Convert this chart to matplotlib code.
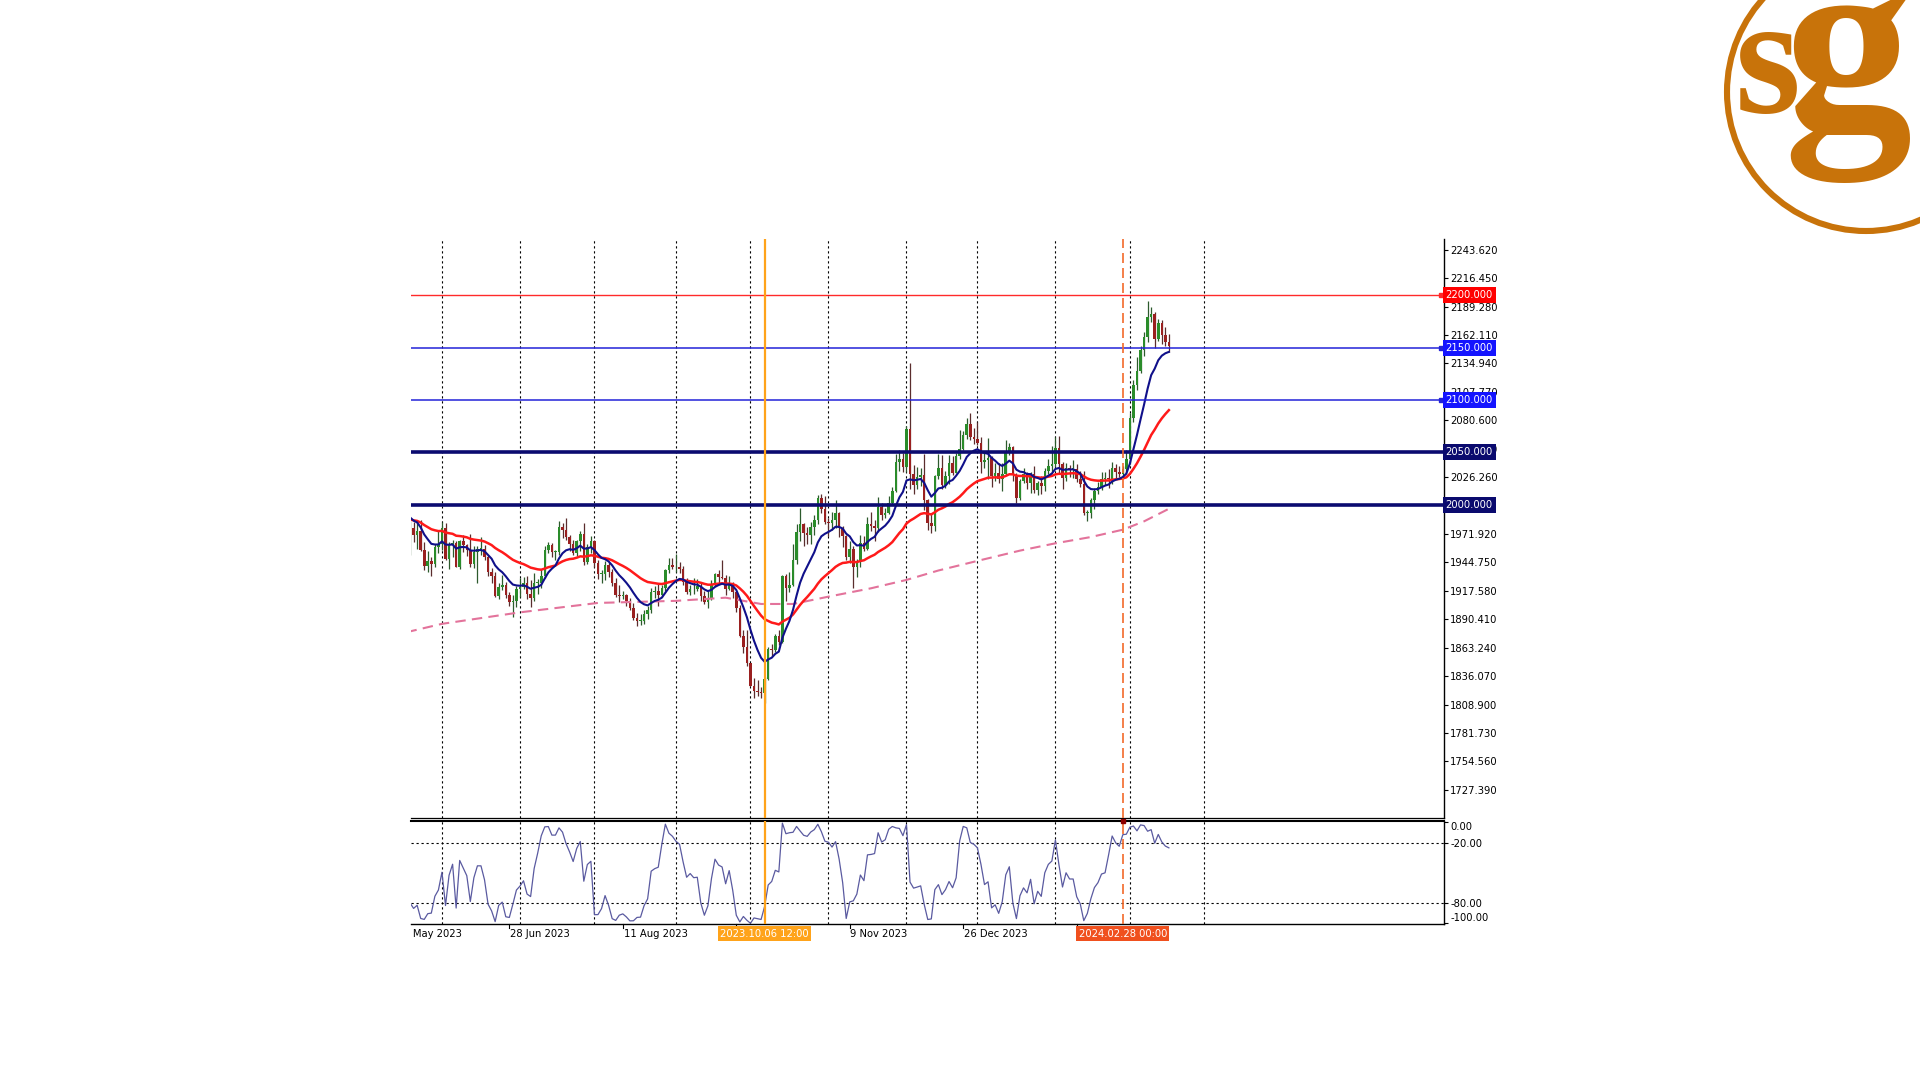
import numpy as np
import pandas as pd
import matplotlib
matplotlib.use('Agg')
import matplotlib.pyplot as plt
from matplotlib.patches import Circle
from matplotlib.transforms import Bbox, TransformedBbox, blended_transform_factory

plt.rcParams['font.family'] = 'DejaVu Sans'

# daily XAUUSD bars, 18 May 2023 - 18 Mar 2024
opens = [
    1982, 1958, 1978, 1971, 1975, 1957, 1941, 1946, 1943, 1959,
    1962, 1978, 1948, 1961, 1963, 1940, 1965, 1961, 1957, 1943, 1955, 1958, 1958, 1950, 1936, 1932, 1913, 1921, 1923, 1914, 1907, 1908,
    1919, 1921, 1925, 1915, 1911, 1925, 1925, 1932, 1957, 1961, 1955, 1955, 1979, 1976, 1969, 1962, 1954, 1965, 1972, 1945, 1959,
    1965, 1944, 1934, 1934, 1942, 1936, 1925, 1914, 1913, 1914, 1908, 1901, 1892, 1889, 1889, 1895, 1899, 1916, 1917, 1914, 1920, 1937, 1942,
    1940, 1940, 1938, 1926, 1916, 1919, 1919, 1922, 1913, 1907, 1910, 1924, 1934, 1931, 1930, 1919, 1925, 1916, 1901, 1874, 1864,
    1849, 1827, 1822, 1821, 1820, 1833, 1862, 1861, 1874, 1869, 1932, 1920, 1923, 1947, 1974, 1981, 1973, 1971, 1979, 1985, 2006, 1996,
    1983, 1982, 1985, 1992, 1978, 1970, 1950, 1958, 1940, 1946, 1963, 1958, 1981, 1980, 1978, 1998, 1990, 1992, 2002, 2013, 2041, 2044,
    2036, 2072, 2029, 2019, 2026, 2028, 2004, 1982, 1980, 2027, 2035, 2019, 2027, 2040, 2030, 2046, 2053, 2067, 2077, 2065,
    2063, 2059, 2041, 2043, 2045, 2027, 2030, 2024, 2029, 2049, 2055, 2028, 2006, 2023, 2029, 2021, 2029, 2014, 2021, 2018, 2032, 2037,
    2039, 2054, 2039, 2025, 2035, 2034, 2034, 2024, 2020, 1992, 1992, 2004, 2013, 2017, 2024, 2025, 2024, 2035, 2031, 2029, 2034,
    2044, 2083, 2114, 2128, 2148, 2160, 2179, 2182, 2158, 2174, 2162, 2155,
]
highs = [
    1985, 1984, 1983, 1985, 1985, 1964, 1956, 1950, 1962, 1975,
    1983, 1982, 1964, 1966, 1965, 1966, 1971, 1962, 1972, 1960, 1960, 1969, 1961, 1952, 1939, 1936, 1925, 1933, 1926, 1916, 1914, 1922,
    1930, 1931, 1932, 1928, 1935, 1929, 1938, 1960, 1964, 1963, 1957, 1984, 1982, 1987, 1971, 1966, 1966, 1975, 1982, 1962, 1970,
    1966, 1947, 1937, 1946, 1945, 1938, 1930, 1923, 1917, 1915, 1911, 1906, 1896, 1895, 1899, 1903, 1920, 1922, 1925, 1923, 1938, 1949, 1949,
    1953, 1945, 1941, 1930, 1923, 1930, 1929, 1926, 1917, 1917, 1928, 1935, 1937, 1947, 1933, 1932, 1926, 1917, 1904, 1880, 1880,
    1849, 1834, 1832, 1826, 1835, 1864, 1867, 1876, 1880, 1933, 1934, 1936, 1962, 1981, 1997, 1982, 1979, 1983, 1990, 2009, 2010, 2008,
    1987, 1993, 2004, 1993, 1980, 1971, 1965, 1960, 1948, 1971, 1970, 1988, 1993, 1985, 2007, 2002, 1997, 2008, 2017, 2048, 2052, 2049,
    2075, 2135, 2038, 2036, 2035, 2048, 2005, 1992, 2028, 2048, 2047, 2032, 2047, 2046, 2049, 2071, 2070, 2083, 2088, 2073,
    2079, 2065, 2051, 2064, 2046, 2040, 2040, 2040, 2062, 2059, 2056, 2030, 2024, 2035, 2031, 2031, 2037, 2023, 2027, 2035, 2044, 2056,
    2065, 2066, 2041, 2040, 2038, 2043, 2039, 2032, 2032, 1995, 2006, 2016, 2022, 2031, 2031, 2034, 2041, 2039, 2037, 2037, 2052,
    2088, 2119, 2141, 2152, 2165, 2195, 2189, 2184, 2177, 2176, 2170, 2163,
]
lows = [
    1952, 1952, 1964, 1958, 1956, 1937, 1936, 1932, 1940, 1954,
    1957, 1947, 1938, 1950, 1940, 1938, 1955, 1951, 1940, 1939, 1925, 1952, 1947, 1932, 1925, 1912, 1910, 1918, 1911, 1903, 1893, 1902,
    1912, 1919, 1910, 1902, 1908, 1915, 1920, 1930, 1954, 1950, 1947, 1952, 1968, 1966, 1956, 1952, 1951, 1956, 1942, 1943, 1954,
    1940, 1929, 1925, 1928, 1931, 1922, 1912, 1907, 1910, 1903, 1899, 1890, 1884, 1885, 1886, 1891, 1896, 1911, 1903, 1912, 1917, 1935, 1938,
    1936, 1935, 1923, 1915, 1914, 1915, 1917, 1908, 1905, 1901, 1909, 1922, 1925, 1929, 1914, 1918, 1911, 1897, 1873, 1858, 1846,
    1827, 1815, 1817, 1815, 1810, 1832, 1855, 1859, 1866, 1868, 1908, 1916, 1922, 1943, 1965, 1960, 1962, 1962, 1971, 1981, 1992, 1981,
    1970, 1976, 1978, 1969, 1959, 1947, 1944, 1920, 1931, 1940, 1956, 1957, 1975, 1965, 1974, 1985, 1987, 1991, 2001, 2012, 2032, 2031,
    2031, 2015, 2010, 2015, 2018, 1995, 1976, 1973, 1975, 2024, 2015, 2016, 2020, 2028, 2030, 2044, 2052, 2063, 2062, 2058,
    2057, 2030, 2035, 2024, 2017, 2023, 2021, 2013, 2028, 2047, 2023, 2002, 2004, 2021, 2015, 2011, 2011, 2009, 2010, 2013, 2029, 2031,
    2036, 2029, 2015, 2023, 2026, 2025, 2022, 2017, 1990, 1984, 1987, 1996, 2010, 2014, 2019, 2016, 2020, 2025, 2026, 2025, 2030,
    2039, 2079, 2110, 2126, 2142, 2155, 2175, 2150, 2156, 2154, 2152, 2146,
]
closes = [
    1958, 1978, 1971, 1975, 1957, 1941, 1946, 1943, 1959, 1962,
    1978, 1948, 1961, 1963, 1940, 1965, 1961, 1957, 1943, 1955, 1958, 1958, 1950, 1936, 1932, 1913, 1921, 1923, 1914, 1907, 1908, 1919,
    1921, 1925, 1915, 1911, 1925, 1925, 1932, 1957, 1961, 1955, 1955, 1979, 1976, 1969, 1962, 1954, 1965, 1972, 1945, 1959, 1965,
    1944, 1934, 1934, 1942, 1936, 1925, 1914, 1913, 1914, 1908, 1901, 1892, 1889, 1889, 1895, 1899, 1916, 1917, 1914, 1920, 1937, 1942, 1940,
    1940, 1938, 1926, 1916, 1919, 1919, 1922, 1913, 1907, 1910, 1924, 1934, 1931, 1930, 1919, 1925, 1916, 1901, 1874, 1864, 1849,
    1827, 1822, 1821, 1820, 1833, 1862, 1861, 1874, 1869, 1932, 1920, 1923, 1947, 1974, 1981, 1973, 1971, 1979, 1985, 2006, 1996, 1983,
    1982, 1985, 1992, 1978, 1970, 1950, 1958, 1940, 1946, 1963, 1958, 1981, 1980, 1978, 1998, 1990, 1992, 2002, 2013, 2041, 2044, 2036,
    2072, 2029, 2019, 2026, 2028, 2004, 1982, 1980, 2027, 2035, 2019, 2027, 2040, 2030, 2046, 2053, 2067, 2077, 2065, 2063,
    2059, 2041, 2043, 2045, 2027, 2030, 2024, 2029, 2049, 2055, 2028, 2006, 2023, 2029, 2021, 2029, 2014, 2021, 2018, 2032, 2037, 2039,
    2054, 2039, 2025, 2035, 2034, 2034, 2024, 2020, 1992, 1992, 2004, 2013, 2017, 2024, 2025, 2024, 2035, 2031, 2029, 2034, 2044,
    2083, 2114, 2128, 2148, 2160, 2179, 2182, 2158, 2174, 2162, 2155, 2152,
]

# 13 bars before the window (1-17 May) for the %R lookback
prior_highs = [1993, 2019, 2042, 2081, 2056, 2026, 2037, 2041, 2033, 2021, 2022, 2023, 1993]
prior_lows = [1977, 1977, 2014, 2030, 2001, 2012, 2014, 2021, 2004, 2004, 2007, 1985, 1977]

# moving average values just before the first bar
fast_ma_start = 1997
slow_ma_start = 1988

# long dashed average, read at a few bars
long_ma_idx = [0, 10, 32, 54, 76, 90, 100, 109, 119, 131, 141, 150, 162, 173, 183, 193, 202, 208, 215]
long_ma_val = [1878, 1886, 1897, 1906, 1908, 1911, 1905, 1905, 1912, 1920, 1928, 1937, 1947, 1956,
               1963, 1969, 1976, 1984, 1996]

levels = [2200, 2150, 2100, 2050, 2000]
level_colors = ['#ff2a2a', '#2323d8', '#2323d8', '#0b0b70', '#0b0b70']
level_box = ['#ff0000', '#1414ff', '#1414ff', '#0a0a6e', '#0a0a6e']
level_width = [1.0, 1.1, 1.1, 2.6, 2.6]

price_ticks = [2243.620, 2216.450, 2189.280, 2162.110, 2134.940, 2107.770, 2080.600, 2053.430,
               2026.260, 1999.090, 1971.920, 1944.750, 1917.580, 1890.410, 1863.240, 1836.070,
               1808.900, 1781.730, 1754.560, 1727.390]
osc_ticks = [0, -20, -80, -100]
osc_labels = ['0.00', '-20.00', '-80.00', '-100.00']

event_dates = ['2023-10-06', '2024-02-28']
event_labels = ['2023.10.06 12:00', '2024.02.28 00:00']

holidays = pd.to_datetime(['2023-12-25', '2024-01-01'])
cal = pd.bdate_range('2023-05-15', '2024-04-30')
cal = cal[~cal.isin(holidays)]
cal_idx = np.arange(len(cal)) - list(cal).index(pd.Timestamp('2023-05-18'))
pos = dict(zip(cal, cal_idx))

o = np.array(opens, float)
h = np.array(highs, float)
l = np.array(lows, float)
c = np.array(closes, float)
n = len(c)
assert len(o) == len(h) == len(l) == n == 216
x = np.arange(n)

fast_ma = pd.Series([fast_ma_start] + closes).ewm(span=10, adjust=False).mean().to_numpy()[1:]
slow_ma = pd.Series([slow_ma_start] + closes).ewm(span=34, adjust=False).mean().to_numpy()[1:]
hh = pd.Series(prior_highs + highs).rolling(14, min_periods=1).max().to_numpy()[13:]
ll = pd.Series(prior_lows + lows).rolling(14, min_periods=1).min().to_numpy()[13:]
wpr = -100 * (hh - c) / (hh - ll)

W, H = 1920, 1080
fig = plt.figure(figsize=(19.2, 10.8), dpi=100)
fig.patch.set_facecolor('white')
L, R = 411, 1444
ax = fig.add_axes([L / W, 1 - 818 / H, (R - L) / W, (818 - 239) / H])
osc = fig.add_axes([L / W, 1 - 924 / H, (R - L) / W, (924 - 821) / H])

bar_px = 3.546
x_left = (L - 406.5) / bar_px
x_right = x_left + (R - L) / bar_px
for a in (ax, osc):
    a.set_xlim(x_left, x_right)
    a.spines['left'].set_visible(False)
    a.yaxis.tick_right()
    a.tick_params(axis='y', direction='out', length=3, width=0.8, pad=1.5, labelsize=7.2, colors='black')
    a.spines['right'].set_linewidth(1.0)

ax.set_ylim(1700.4, 2253.9)
ax.spines['top'].set_visible(False)
ax.spines['bottom'].set_linewidth(0.9)
ax.set_xticks([])
ax.set_yticks(price_ticks)
ax.set_yticklabels([f'{v:.3f}' for v in price_ticks])

osc.set_ylim(-100.7, 1.3)
osc.spines['top'].set_linewidth(1.5)
osc.spines['bottom'].set_linewidth(1.0)
osc.set_yticks(osc_ticks)
osc.set_yticklabels(osc_labels)
for lab, v in zip(osc.get_yticklabels(), osc_ticks):
    if v == 0:
        lab.set_va('top')
    elif v == -100:
        lab.set_va('bottom')

# month grid
month_first = pd.Series(cal_idx, index=cal).groupby([cal.year, cal.month]).first()
for i in month_first.values:
    if x_left < i < x_right:
        for a in (ax, osc):
            a.axvline(i, color='black', lw=0.8, ls=(0, (2, 2.5)), zorder=1)
for lv in (-20, -80):
    osc.axhline(lv, color='black', lw=0.8, ls=(0, (2, 2.5)), zorder=1)

# candles
up = c >= o
body_col = np.where(up, '#2a8c2a', '#9a2020')
wick_col = np.where(up, '#2d5a2d', '#5a2d2d')
ax.vlines(x, l, h, colors=wick_col, lw=0.9, zorder=3)
ax.bar(x, np.maximum(np.abs(c - o), 0.6), bottom=np.minimum(o, c), width=0.72,
       color=body_col, edgecolor='none', zorder=3.5)

ax.plot(long_ma_idx, long_ma_val, color='#e3739b', lw=1.5, ls=(0, (5, 3)), zorder=4)
ax.plot(x, slow_ma, color='#ff1a1a', lw=1.8, zorder=4)
ax.plot(x, fast_ma, color='#10108a', lw=1.5, zorder=4.2)

osc.plot(x, wpr, color='#5a5aa0', lw=0.9, zorder=3)

# horizontal levels with price boxes
ytr = blended_transform_factory(ax.transAxes, ax.transData)
for lv, lc, bc, lw in zip(levels, level_colors, level_box, level_width):
    ax.axhline(lv, color=lc, lw=lw, zorder=5)
    ax.text(1.0015, lv, f'{lv:.3f}', transform=ytr, ha='left', va='center', fontsize=7.2,
            color='white', zorder=10, clip_on=False,
            bbox=dict(boxstyle='square,pad=0.3', fc=bc, ec='none'))
    if lw < 2:
        ax.plot([0.9975], [lv], marker='s', ms=3.2, color=lc, transform=ytr, clip_on=False, zorder=6)

# event lines
ev_idx = [pos[pd.Timestamp(d)] for d in event_dates]
ev_style = [dict(color='#ffa31a', lw=1.6, ls='-'), dict(color='#f26a2a', lw=1.2, ls=(0, (6, 3)))]
ev_box = ['#ffa31a', '#f0501e']
xtr = blended_transform_factory(osc.transData, osc.transAxes)
for i, st, bc, txt in zip(ev_idx, ev_style, ev_box, event_labels):
    for a in (ax, osc):
        a.axvline(i, zorder=5, **st)
    osc.text(i, -0.045, txt, transform=xtr, ha='center', va='top', fontsize=7.2, color='white',
             zorder=10, clip_on=False, bbox=dict(boxstyle='square,pad=0.22', fc=bc, ec='none'))
osc.plot([ev_idx[1]], [1.0], marker='s', ms=3, color='#8b0000', transform=xtr, clip_on=False, zorder=8)

# date labels every 32 bars
osc.set_xticks([])
clip = TransformedBbox(Bbox([[0, -1], [1.3, 1]]), osc.transAxes)
for i in range(-3, n, 32):
    d = cal[list(cal_idx).index(i)]
    if i > x_left:
        osc.plot([i, i], [0, -0.04], color='black', lw=0.8, transform=xtr, clip_on=False)
    t = osc.text(i + 0.2, -0.045, f'{d.day} {d.strftime("%b %Y")}', transform=xtr, ha='left',
                 va='top', fontsize=7.2, color='black', zorder=3)
    t.set_clip_path(None)
    t.set_clip_box(clip)
    t.set_clip_on(True)

# logo
lax = fig.add_axes([0, 0, 1, 1], zorder=10)
lax.set_xlim(0, W)
lax.set_ylim(H, 0)
lax.axis('off')
gold = '#c8730a'
lax.add_patch(Circle((1866, 92), 139, fill=False, lw=4.4, ec=gold))
lax.text(1768, 112, 's', fontsize=122, family='Liberation Serif', weight='bold', color=gold,
         ha='center', va='baseline')
lax.text(1848, 126, 'g', fontsize=185, family='Liberation Serif', weight='bold', color=gold,
         ha='center', va='baseline')

fig.savefig('out.png', dpi=100, facecolor='white')
